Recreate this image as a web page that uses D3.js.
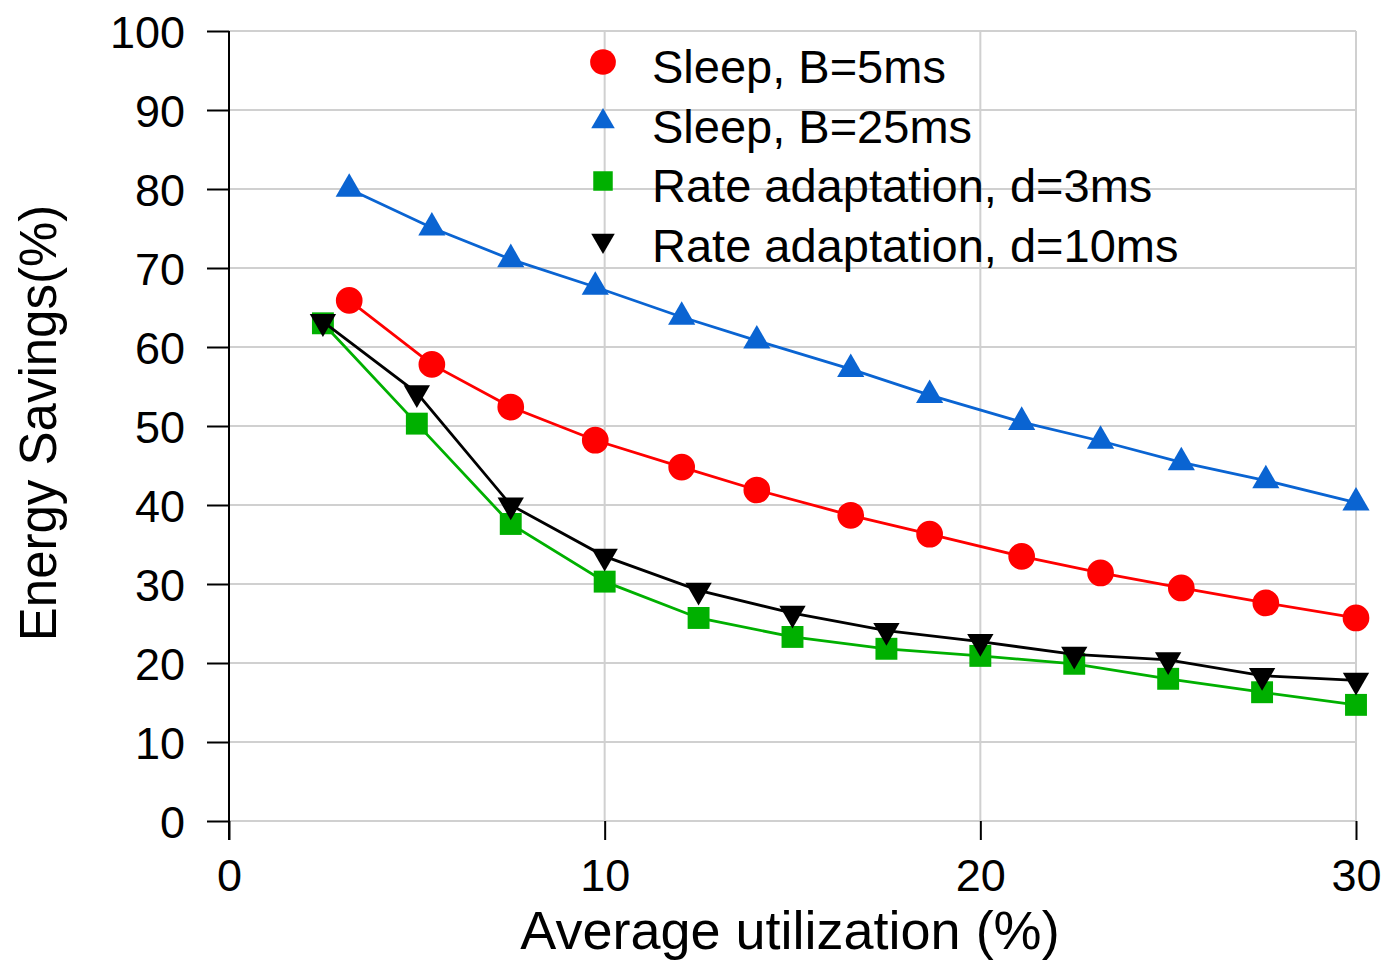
<!DOCTYPE html>
<html>
<head>
<meta charset="utf-8">
<script src="https://cdn.jsdelivr.net/npm/d3@7"></script>
<style>
  body { margin: 0; background: #fff; }
  text { font-family: "Liberation Sans", Arial, sans-serif; fill: #000; }
</style>
</head>
<body>
<div id="chart"></div>
<script>
// utilization values (%)
const sleepX = [3.2, 5.4, 7.5, 9.75, 12.05, 14.05, 16.55, 18.65, 21.1, 23.2, 25.35, 27.6, 30];
const rateX = [2.5, 5, 7.5, 10, 12.5, 15, 17.5, 20, 22.5, 25, 27.5, 30];

// energy savings (%)
const sleep5 = [65.9, 57.8, 52.4, 48.2, 44.8, 41.9, 38.7, 36.3, 33.5, 31.4, 29.5, 27.6, 25.7];
const sleep25 = [80.0, 75.1, 71.1, 67.6, 63.8, 60.8, 57.2, 53.9, 50.5, 48.1, 45.4, 43.1, 40.3];
const rate3 = [63.0, 50.3, 37.6, 30.3, 25.7, 23.3, 21.8, 20.9, 19.9, 18.0, 16.3, 14.7];
const rate10 = [63.2, 54.2, 40.0, 33.5, 29.2, 26.3, 24.1, 22.7, 21.1, 20.4, 18.4, 17.8];

const seriesNames = ["Sleep, B=5ms", "Sleep, B=25ms", "Rate adaptation, d=3ms", "Rate adaptation, d=10ms"];
const xTicks = [0, 10, 20, 30];
const yTicks = [0, 10, 20, 30, 40, 50, 60, 70, 80, 90, 100];

const W = 1388, H = 961;
const margin = { top: 31, right: 32, bottom: 140, left: 229 };
const width = W - margin.left - margin.right,
  height = H - margin.top - margin.bottom;

const svg = d3.select("#chart").append("svg")
  .attr("width", W)
  .attr("height", H);

const g = svg.append("g")
  .attr("transform", "translate(" + margin.left + "," + margin.top + ")");

const x = d3.scaleLinear().domain([0, 30]).range([0, width]);
const y = d3.scaleLinear().domain([0, 100]).range([height, 0]);

// grid
g.append("g").selectAll("line")
  .data(yTicks)
  .enter().append("line")
  .attr("x1", 0).attr("x2", width)
  .attr("y1", d => y(d)).attr("y2", d => y(d))
  .attr("stroke", "#d0d0d0").attr("stroke-width", 2);
g.append("g").selectAll("line")
  .data(xTicks.filter(d => d > 0))
  .enter().append("line")
  .attr("x1", d => x(d)).attr("x2", d => x(d))
  .attr("y1", 0).attr("y2", height)
  .attr("stroke", "#d0d0d0").attr("stroke-width", 2);

// y axis
const yAxis = g.append("g")
  .call(d3.axisLeft(y).tickValues(yTicks).tickSize(22).tickPadding(22));
yAxis.select(".domain").remove();
yAxis.selectAll(".tick line").attr("stroke", "#000").attr("stroke-width", 2);
yAxis.selectAll("text").style("font-size", "45px").attr("dy", "0.36em");
g.append("line")
  .attr("x1", 0).attr("x2", 0)
  .attr("y1", 0).attr("y2", height + 19)
  .attr("stroke", "#000").attr("stroke-width", 2);

// x axis
const xAxis = g.append("g")
  .attr("transform", "translate(0," + height + ")")
  .call(d3.axisBottom(x).tickValues(xTicks).tickSize(19).tickPadding(19));
xAxis.select(".domain").remove();
xAxis.selectAll(".tick line").attr("stroke", "#000").attr("stroke-width", 2);
xAxis.selectAll("text").style("font-size", "45px");

// axis titles
svg.append("text")
  .attr("x", 790).attr("y", 949)
  .attr("text-anchor", "middle")
  .style("font-size", "54px")
  .text("Average utilization (%)");
svg.append("text")
  .attr("transform", "translate(56,423) rotate(-90)")
  .attr("text-anchor", "middle")
  .style("font-size", "51px")
  .text("Energy Savings(%)");

const series = [
  { name: seriesNames[2], xs: rateX, ys: rate3, color: "#00b000", symbol: d3.symbolSquare, size: 480, rot: 0 },
  { name: seriesNames[3], xs: rateX, ys: rate10, color: "#000000", symbol: d3.symbolTriangle, size: 300, rot: 180 },
  { name: seriesNames[0], xs: sleepX, ys: sleep5, color: "#ff0000", symbol: d3.symbolCircle, size: 560, rot: 0 },
  { name: seriesNames[1], xs: sleepX, ys: sleep25, color: "#0a64d2", symbol: d3.symbolTriangle, size: 320, rot: 0 }
];

const line = d3.line().x(d => x(d[0])).y(d => y(d[1]));

series.forEach(s => {
  const pts = s.xs.map((v, i) => [v, s.ys[i]]);
  g.append("path")
    .datum(pts)
    .attr("d", line)
    .attr("fill", "none")
    .attr("stroke", s.color)
    .attr("stroke-width", 2.8);
  g.selectAll(null)
    .data(pts)
    .enter().append("path")
    .attr("d", d3.symbol().type(s.symbol).size(s.size))
    .attr("transform", d => "translate(" + x(d[0]) + "," + y(d[1]) + ") rotate(" + s.rot + ")")
    .attr("fill", s.color);
});

// legend
const legendOrder = [series[2], series[3], series[0], series[1]];
const legend = svg.append("g").attr("transform", "translate(603,62)");
legendOrder.forEach((s, i) => {
  const row = legend.append("g").attr("transform", "translate(0," + (i * 59.5) + ")");
  const size = s.symbol === d3.symbolCircle ? 520 : (s.symbol === d3.symbolSquare ? 380 : 240);
  row.append("path")
    .attr("d", d3.symbol().type(s.symbol).size(size))
    .attr("transform", "rotate(" + s.rot + ")")
    .attr("fill", s.color);
  row.append("text")
    .attr("x", 49).attr("y", 0)
    .attr("dy", "0.45em")
    .style("font-size", "47px")
    .text(s.name);
});
</script>
</body>
</html>
